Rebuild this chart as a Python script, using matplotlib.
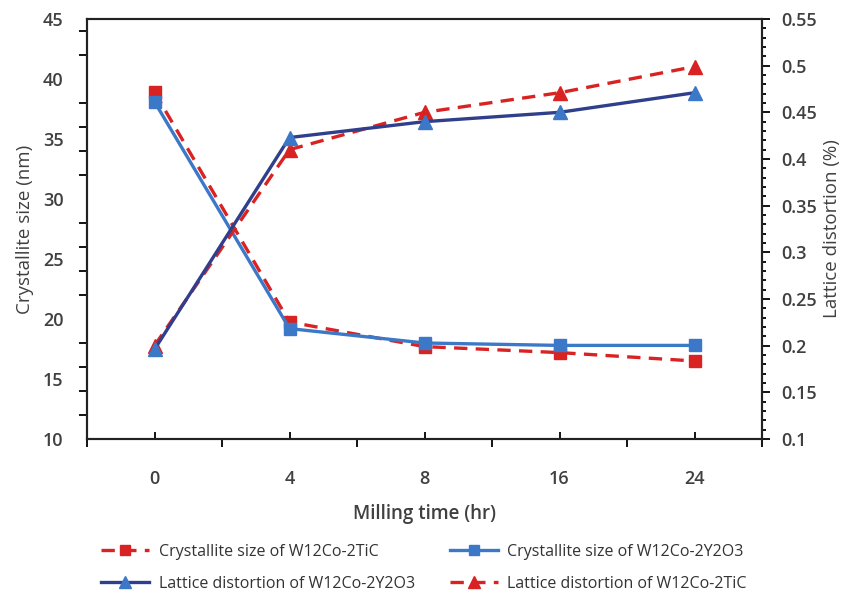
import numpy as np
import matplotlib
matplotlib.use("Agg")
from matplotlib import pyplot as plt
from matplotlib.ticker import MultipleLocator, FixedLocator

# milling time categories
times = ["0", "4", "8", "16", "24"]

# crystallite size (nm), left axis
size_tic = [38.9, 19.75, 17.7, 17.2, 16.5]
size_y2o3 = [38.1, 19.2, 18.0, 17.8, 17.8]

# lattice distortion (%), right axis
dist_y2o3 = [0.196, 0.423, 0.440, 0.450, 0.471]
dist_tic = [0.200, 0.410, 0.450, 0.471, 0.499]

RED = "#d92323"
BLUE = "#3c78c8"
DARK = "#2f3f8c"
GREY = "#404040"

plt.rcParams['font.family'] = ['Open Sans', 'DejaVu Sans']

fig = plt.figure(figsize=(8.48, 6.01), dpi=100)
ax = fig.add_axes([87 / 848, 1 - 439 / 601, 675 / 848, 420 / 601])
ax2 = ax.twinx()

x = np.arange(len(times))

l1, = ax.plot(x, size_tic, color=RED, ls=(0, (4, 2.5)), lw=2.4, marker="s", ms=9, zorder=3)
l2, = ax.plot(x, size_y2o3, color=BLUE, lw=2.4, marker="s", ms=9, zorder=4)
l3, = ax2.plot(x, dist_y2o3, color=DARK, lw=2.4, marker="^", ms=10,
               mfc=BLUE, mec=BLUE, zorder=4)
l4, = ax2.plot(x, dist_tic, color=RED, ls=(0, (4, 2.5)), lw=2.4, marker="^", ms=10, zorder=3)

ax.set_xlim(-0.5, 4.5)
ax.set_ylim(10, 45)
ax2.set_ylim(0.1, 0.55)

# x ticks: category centres labelled, boundaries as outward ticks
ax.set_xticks(x)
ax.set_xticklabels(times)
ax.xaxis.set_minor_locator(FixedLocator(np.arange(-0.5, 4.6, 1)))
ax.tick_params(axis="x", which="major", direction="in", length=5, pad=22)
ax.tick_params(axis="x", which="minor", direction="out", length=6)

# left y: ticks every 2, labels every 5
ax.yaxis.set_major_locator(MultipleLocator(5))
ax.yaxis.set_minor_locator(MultipleLocator(2))
ax.tick_params(axis="y", which="major", length=0, pad=17)
ax.tick_params(axis="y", which="minor", direction="out", length=6)

rticks = np.round(np.arange(0.1, 0.551, 0.05), 2)
ax2.set_yticks(rticks)
ax2.set_yticklabels([f"{v:g}" for v in rticks])
ax2.yaxis.set_minor_locator(MultipleLocator(0.01))
ax2.tick_params(axis="y", which="major", direction="out", length=6, pad=8)
ax2.tick_params(axis="y", which="minor", direction="out", length=3)

for a in (ax, ax2):
    a.tick_params(labelsize=13, labelcolor=GREY, width=1.3)
    a.tick_params(which="minor", width=1.3)
    for s in a.spines.values():
        s.set_linewidth(1.5)
        s.set_color("#222222")
for lab in ax.get_xticklabels() + ax.get_yticklabels() + ax2.get_yticklabels():
    lab.set_fontweight("semibold")

ax.set_xlabel("Milling time (hr)", fontsize=13.5, color=GREY, fontweight="semibold", labelpad=12)
ax.set_ylabel("Crystallite size (nm)", fontsize=13.5, color=GREY, labelpad=6)
ax2.set_ylabel("Lattice distortion (%)", fontsize=13.5, color=GREY, labelpad=4)

leg = fig.legend([l1, l3, l2, l4],
                 ["Crystallite size of W12Co-2TiC", "Lattice distortion of W12Co-2Y2O3",
                  "Crystallite size of W12Co-2Y2O3", "Lattice distortion of W12Co-2TiC"],
                 ncol=2, loc="center", bbox_to_anchor=(0.5, 0.055), frameon=False,
                 fontsize=11.5, handlelength=3.0, handletextpad=0.6, columnspacing=2.2,
                 markerscale=0.8, labelspacing=1.0)
for t in leg.get_texts():
    t.set_color("#333333")

fig.savefig("out.png", dpi=100)
